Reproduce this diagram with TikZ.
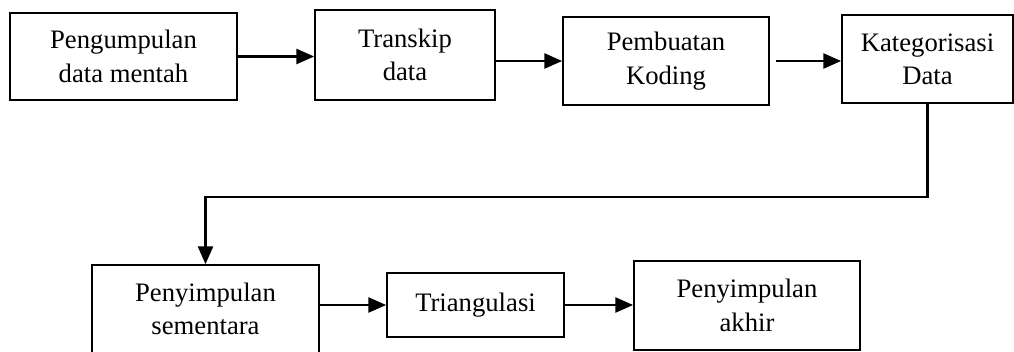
\documentclass[tikz,border=0pt]{standalone}
\usepackage{fontspec}
\setmainfont{Liberation Serif}
\usetikzlibrary{arrows.meta}
\tikzset{
  box/.style={draw, line width=0.8pt, align=center, inner sep=0pt,
    font=\fontsize{12}{15}\selectfont},
  flow/.style={line width=1pt, -{Triangle[length=8pt,width=6.8pt]}}
}
\begin{document}
\begin{tikzpicture}[x=0.45pt,y=-0.45pt]
      \useasboundingbox (0,0) rectangle (1014,351);
      \draw
        (123.5,56.5) node[box, minimum width=102pt, minimum height=39pt] (kumpul){Pengumpulan\\data mentah}
        (405,55) node[box, minimum width=81pt, minimum height=40.5pt] (transkip){Transkip\\data}
        (666,61) node[box, minimum width=92.7pt, minimum height=39.6pt] (koding){Pembuatan\\Koding}
        (927.5,59) node[box, minimum width=77pt, minimum height=39.6pt] (kategori){Kategorisasi\\Data}
        (205.5,309) node[box, minimum width=102pt, minimum height=39.6pt] (sementara){Penyimpulan\\sementara}
        (475.5,305) node[box, minimum width=79.7pt, minimum height=28.8pt] (triangulasi){Triangulasi}
        (747,305.5) node[box, minimum width=101.7pt, minimum height=40pt] (akhir){Penyimpulan\\akhir};
      \begin{scope}[flow]
        \draw (kumpul.east) to (transkip.west |- kumpul.east);
        \draw (transkip.east |- koding.west) to (koding.west);
        \draw[shorten <=2.7pt] (koding.east) to (kategori.west |- koding.east);
        \draw (kategori.south) -- ++(0,93) -| (sementara.north);
        \draw (sementara.east |- triangulasi.west) to (triangulasi.west);
        \draw (triangulasi.east) to (akhir.west |- triangulasi.east);
      \end{scope}
    \end{tikzpicture}
\end{document}
